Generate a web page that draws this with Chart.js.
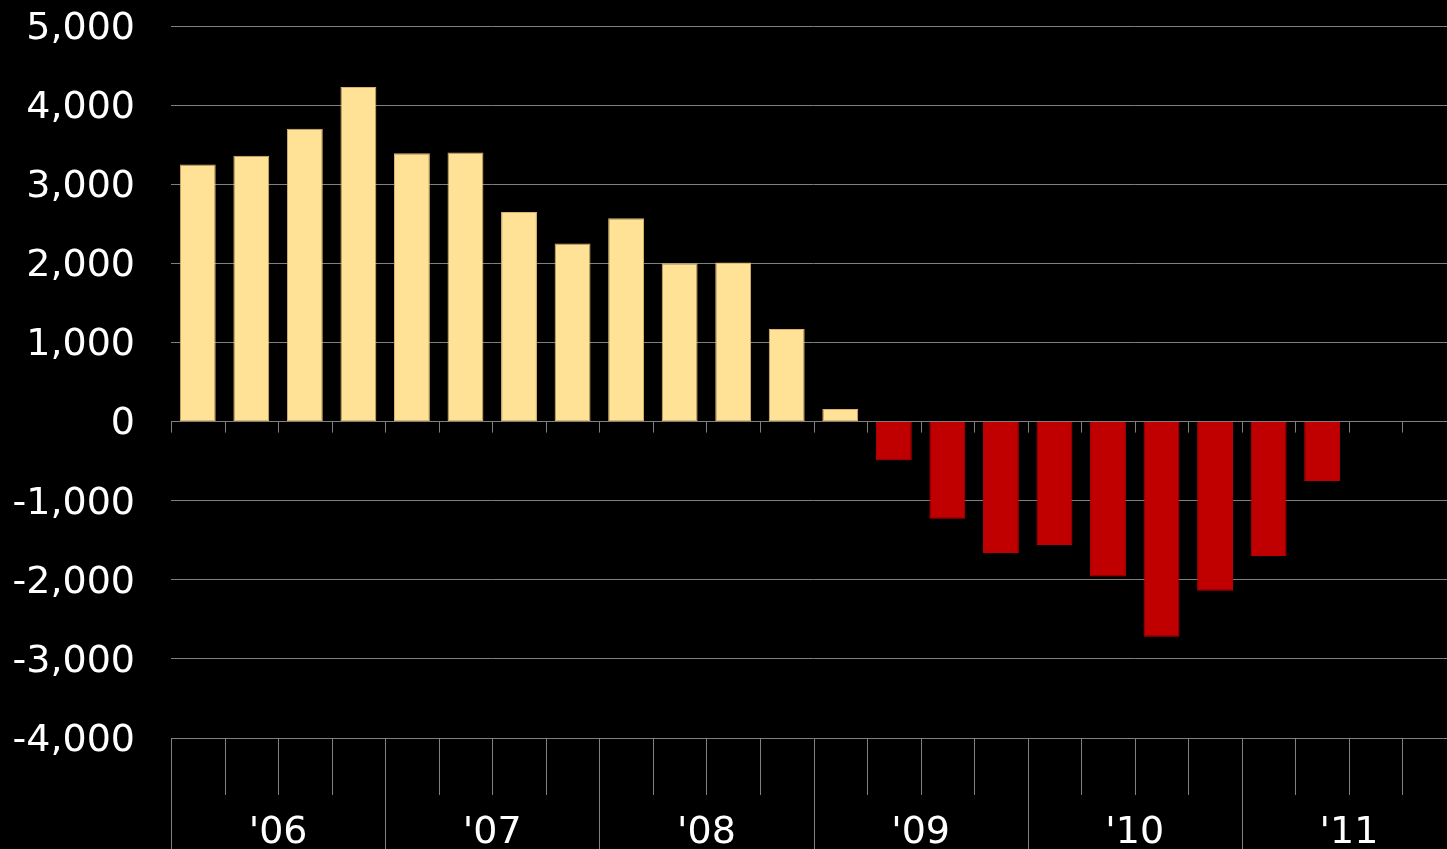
<!DOCTYPE html>
<html><head><meta charset="utf-8">
<script src="https://cdn.jsdelivr.net/npm/chart.js@4.4.1/dist/chart.umd.min.js"></script>
<style>html,body{margin:0;padding:0;background:#000;overflow:hidden;} #wrap{width:1480px;height:849px;position:relative;}</style>
</head><body><div id="wrap"><canvas id="c"></canvas></div>
<script>
const quarters = ['Q1 06','Q2 06','Q3 06','Q4 06','Q1 07','Q2 07','Q3 07','Q4 07','Q1 08','Q2 08','Q3 08','Q4 08','Q1 09','Q2 09','Q3 09','Q4 09','Q1 10','Q2 10','Q3 10','Q4 10','Q1 11','Q2 11','Q3 11','Q4 11'];
const values = [3250, 3360, 3700, 4230, 3390, 3400, 2650, 2250, 2570, 2000, 2010, 1170, 160, -490, -1230, -1660, -1560, -1960, -2720, -2140, -1700, -750, null, null];
const yearLabels = ["'06", "'07", "'08", "'09", "'10", "'11"];
const yTickValues = [-4000, -3000, -2000, -1000, 0, 1000, 2000, 3000, 4000, 5000];

const POS = '#FFE296', POS_EDGE = '#D9B56A', NEG = '#C00000';
const GRID = '#808080';
const FONT = 'DejaVu Sans';

function noPad(s) { s.paddingTop = 0; s.paddingBottom = 0; s.paddingLeft = 0; s.paddingRight = 0; }

const axisLines = {
  id: 'axisLines',
  afterDatasetsDraw(chart) {
    const ctx = chart.ctx, xs = chart.scales.x, ys = chart.scales.y;
    const y0 = ys.getPixelForValue(0), yb = ys.getPixelForValue(yTickValues[0]);
    const per = quarters.length / yearLabels.length;
    ctx.save();
    ctx.strokeStyle = GRID; ctx.lineWidth = 1;
    for (let i = 0; i <= quarters.length; i++) {
      const x = Math.round(xs.getPixelForValue(i - 0.5)) + 0.5;
      ctx.beginPath();
      ctx.moveTo(x, y0); ctx.lineTo(x, y0 + 11);
      ctx.moveTo(x, yb); ctx.lineTo(x, i % per === 0 ? chart.height : yb + 57);
      ctx.stroke();
    }
    ctx.restore();
  }
};

new Chart(document.getElementById('c'), {
  type: 'bar',
  data: {
    labels: quarters,
    datasets: [{
      data: values,
      xAxisID: 'x', yAxisID: 'y',
      backgroundColor: c => (c.raw >= 0 ? POS : NEG),
      borderColor: c => (c.raw >= 0 ? POS_EDGE : NEG),
      borderWidth: 1,
      borderSkipped: false,
      barPercentage: 0.67,
      categoryPercentage: 1
    }]
  },
  options: {
    responsive: true, maintainAspectRatio: false, animation: false,
    layout: { padding: { top: 26, right: 24, left: 0, bottom: 0 } },
    plugins: { legend: { display: false }, tooltip: { enabled: false } },
    scales: {
      x: { type: 'category', display: false, offset: true, grid: { display: false }, afterFit: noPad },
      x2: {
        type: 'category', labels: yearLabels, position: 'bottom', offset: true,
        grid: { display: false }, border: { display: false },
        afterFit: s => { noPad(s); s.height = 111; },
        ticks: {
          color: '#fff', font: { family: FONT, size: 38 }, padding: 64,
          autoSkip: false, maxRotation: 0, minRotation: 0
        }
      },
      y: {
        min: -4000, max: 5000,
        afterBuildTicks: s => { s.ticks = yTickValues.map(v => ({ value: v })); },
        afterFit: s => { noPad(s); s.width = 171; },
        grid: { color: GRID, lineWidth: 1, drawTicks: false },
        border: { display: false },
        ticks: {
          color: '#fff', font: { family: FONT, size: 38 }, padding: 36, labelOffset: 3,
          callback: v => v.toLocaleString('en-US')
        }
      }
    }
  },
  plugins: [axisLines]
});
</script>
</body></html>
